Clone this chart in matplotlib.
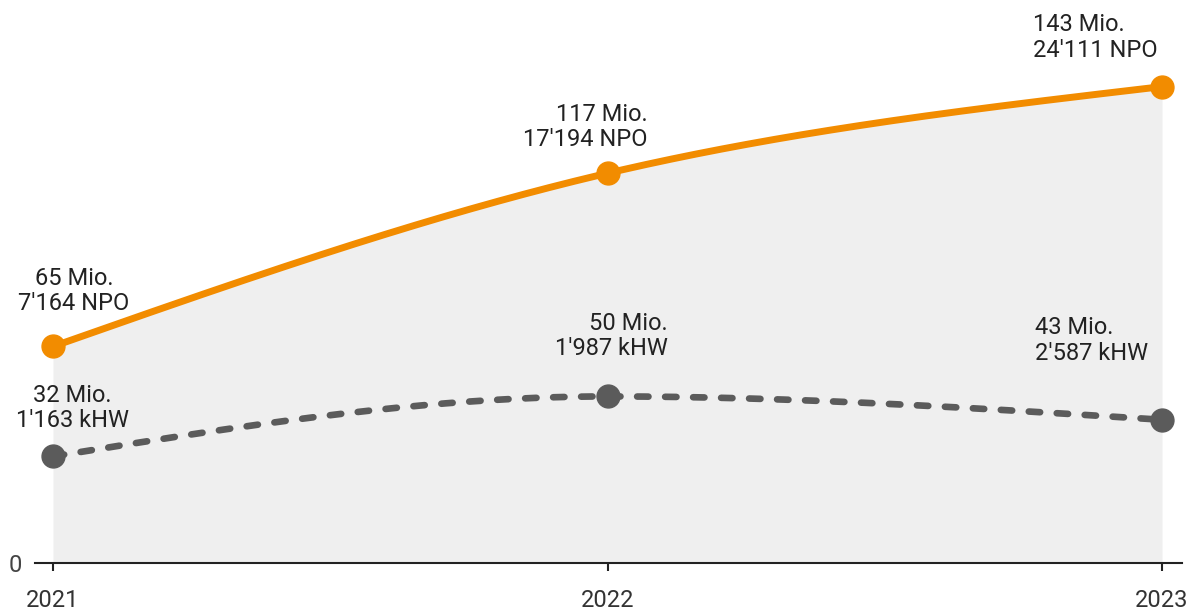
import numpy as np
import matplotlib.pyplot as plt

years = [2021, 2022, 2023]
orange_vals = [65, 117, 143]
gray_vals = [32, 50, 43]
orange_labels = ["65 Mio.\n7'164 NPO", "117 Mio.\n17'194 NPO", "143 Mio.\n24'111 NPO"]
gray_labels = ["32 Mio.\n1'163 kHW", "50 Mio.\n1'987 kHW", "43 Mio.\n2'587 kHW"]

ORANGE = "#f28c00"
GRAY = "#5b5b5b"
TEXT = "#222222"

plt.rcParams['font.family'] = ['Roboto', 'DejaVu Sans']


def monotone(x, y, n=200):
    # monotone cubic (like d3.curveMonotoneX), used only to smooth the drawn line
    x = np.asarray(x, float)
    y = np.asarray(y, float)
    h = np.diff(x)
    s = np.diff(y) / h
    m = np.zeros_like(y)
    for k in range(1, len(x) - 1):
        p = (s[k - 1] * h[k] + s[k] * h[k - 1]) / (h[k - 1] + h[k])
        m[k] = (np.sign(s[k - 1]) + np.sign(s[k])) * min(abs(s[k - 1]), abs(s[k]), 0.5 * abs(p))
    m[0] = (3 * s[0] - m[1]) / 2
    m[-1] = (3 * s[-1] - m[-2]) / 2
    xs, ys = [], []
    for k in range(len(x) - 1):
        t = np.linspace(0, 1, n)
        h00 = 2 * t**3 - 3 * t**2 + 1
        h10 = t**3 - 2 * t**2 + t
        h01 = -2 * t**3 + 3 * t**2
        h11 = t**3 - t**2
        xs.append(x[k] + t * h[k])
        ys.append(h00 * y[k] + h10 * h[k] * m[k] + h01 * y[k + 1] + h11 * h[k] * m[k + 1])
    return np.concatenate(xs), np.concatenate(ys)


fig = plt.figure(figsize=(11.91, 6.11), dpi=100)
ax = fig.add_axes([35 / 1191, 48 / 611, 1147 / 1191, 563 / 611])

ox, oy = monotone(years, orange_vals)
gx, gy = monotone(years, gray_vals)

ax.fill_between(ox, 0, oy, color="#efefef", lw=0, zorder=1)
ax.plot(ox, oy, color=ORANGE, lw=5, solid_capstyle='round', zorder=3)
ax.plot(years, orange_vals, "o", color=ORANGE, ms=16.5, zorder=4)
ax.plot(gx, gy, color=GRAY, lw=4.8, ls=(0, (1.7, 2.5)), dash_capstyle='round', zorder=3)
ax.plot(years, gray_vals, "o", color=GRAY, ms=16.5, zorder=4)

# label placement (pixel offsets from point, alignment per label)
o_off = [(21, 31, 'center'), (40, 22, 'right'), (-129, 25, 'left')]
g_off = [(19, 24, 'center'), (60, 36, 'right'), (-127, 55, 'left')]
for xv, yv, lab, (dx, dy, ha) in zip(years, orange_vals, orange_labels, o_off):
    ax.annotate(lab, (xv, yv), xytext=(dx, dy), textcoords='offset pixels',
                ha=ha, va='bottom', fontsize=17, color=TEXT, linespacing=1.15,
                multialignment=ha, zorder=5)
for xv, yv, lab, (dx, dy, ha) in zip(years, gray_vals, gray_labels, g_off):
    ax.annotate(lab, (xv, yv), xytext=(dx, dy), textcoords='offset pixels',
                ha=ha, va='bottom', fontsize=17, color=TEXT, linespacing=1.15,
                multialignment=ha, zorder=5)

ax.set_xlim(2021 - 18 / 554.5, 2023 + 20 / 554.5)
ax.set_ylim(0, 169)
for side in ['top', 'right', 'left']:
    ax.spines[side].set_visible(False)
ax.spines['bottom'].set_color("#222222")
ax.spines['bottom'].set_linewidth(1.5)
ax.set_xticks(years)
ax.set_xticklabels([str(y) for y in years])
ax.set_yticks([0])
ax.tick_params(axis='x', length=6, width=1.5, color="#222222", labelsize=17,
               labelcolor="#333333", pad=13)
ax.tick_params(axis='y', length=0, labelsize=17, labelcolor="#444444", pad=9)

fig.savefig("out.png", dpi=100)
